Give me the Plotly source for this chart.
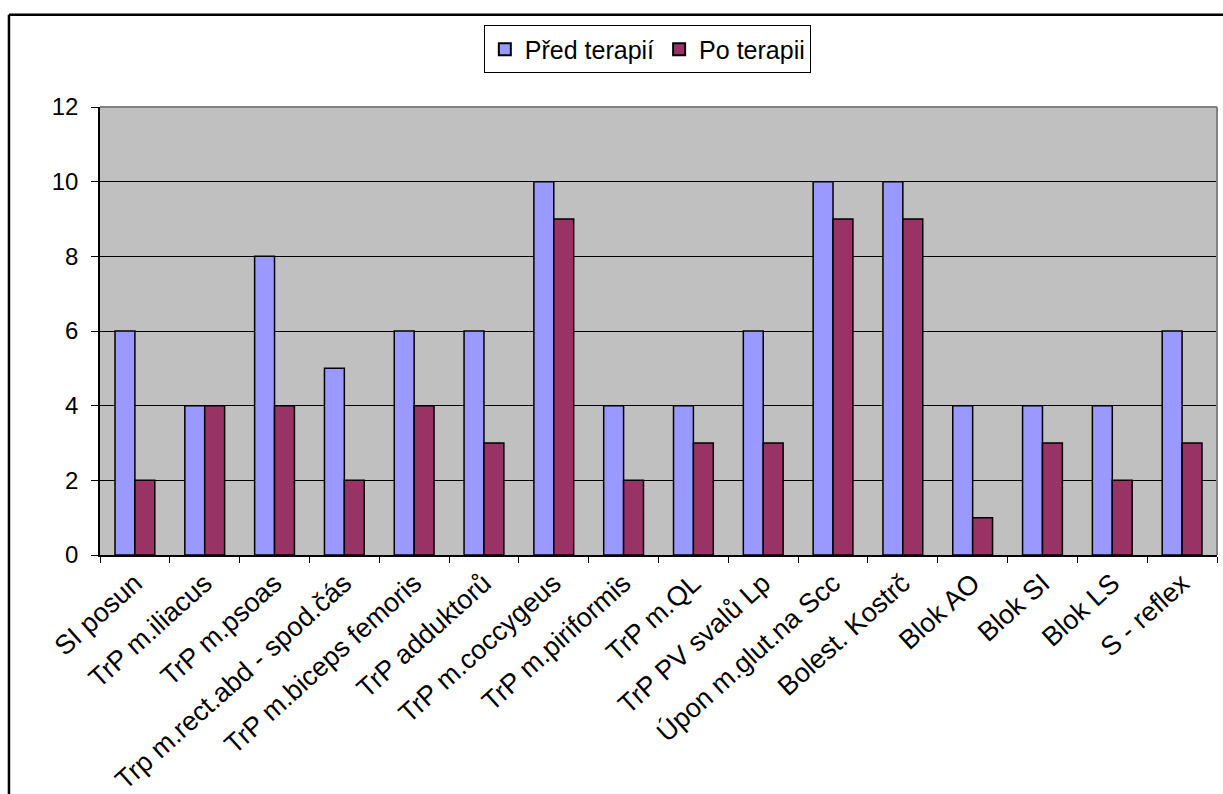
import plotly.graph_objects as go

categories = [
    "SI posun", "TrP m.iliacus", "TrP m.psoas", "Trp m.rect.abd - spod.čás",
    "TrP m.biceps femoris", "TrP adduktorů", "TrP m.coccygeus", "TrP m.piriformis",
    "TrP m.QL", "TrP PV svalů Lp", "Úpon m.glut.na Scc", "Bolest. Kostrč",
    "Blok AO", "Blok SI", "Blok LS", "S - reflex",
]
pred_terapii = [6, 4, 8, 5, 6, 6, 10, 4, 4, 6, 10, 10, 4, 4, 4, 6]
po_terapii = [2, 4, 4, 2, 4, 3, 9, 2, 3, 3, 9, 9, 1, 3, 2, 3]
y_ticks = [0, 2, 4, 6, 8, 10, 12]

FONT = "Liberation Sans, Arial, sans-serif"

fig = go.Figure()
fig.add_trace(go.Bar(
    x=categories, y=pred_terapii, name="Před terapií",
    marker=dict(color="#9999FF", line=dict(color="black", width=1.5)),
))
fig.add_trace(go.Bar(
    x=categories, y=po_terapii, name="Po terapii",
    marker=dict(color="#993366", line=dict(color="black", width=1.5)),
))

fig.update_layout(
    width=1223, height=794,
    margin=dict(l=100, r=6, t=107, b=239),
    paper_bgcolor="white",
    plot_bgcolor="#C0C0C0",
    barmode="group",
    bargap=0.43,
    bargroupgap=0,
    font=dict(family=FONT, size=24, color="black"),
    showlegend=True,
    legend=dict(
        orientation="h",
        x=0.49, xanchor="center",
        y=1.182, yanchor="top",
        bgcolor="white",
        bordercolor="black", borderwidth=1,
        font=dict(family=FONT, size=25, color="black"),
        itemsizing="constant",
        itemwidth=30,
        traceorder="normal",
    ),
    xaxis=dict(
        type="category",
        automargin=False,
        tickangle=-42,
        tickson="boundaries",
        ticks="outside", ticklen=6, tickcolor="black", tickwidth=1,
        showline=True, linecolor="black", linewidth=1.5,
        showgrid=False,
        tickfont=dict(family=FONT, size=27, color="black"),
    ),
    yaxis=dict(
        automargin=False,
        range=[0, 12],
        tickvals=y_ticks,
        ticks="outside", ticklen=7, tickcolor="black", tickwidth=1,
        ticklabelstandoff=8,
        showline=True, linecolor="black", linewidth=1.5,
        showgrid=True, gridcolor="black", gridwidth=1,
        zeroline=False,
        tickfont=dict(family=FONT, size=24, color="black"),
    ),
    shapes=[
        # plot-area border on top and right
        dict(type="line", xref="paper", yref="paper", x0=0, x1=1, y0=1, y1=1,
             line=dict(color="#808080", width=2), layer="above"),
        dict(type="line", xref="paper", yref="paper", x0=1, x1=1, y0=0, y1=1,
             line=dict(color="#808080", width=2), layer="above"),
        # chart frame
        dict(type="line", xref="paper", yref="paper", x0=-0.0815, x1=1.02,
             y0=1.206, y1=1.206, line=dict(color="black", width=2.5)),
        dict(type="line", xref="paper", yref="paper", x0=-0.0815, x1=-0.0815,
             y0=1.206, y1=-0.6, line=dict(color="black", width=2.5)),
    ],
)

fig.write_html("out.html")
